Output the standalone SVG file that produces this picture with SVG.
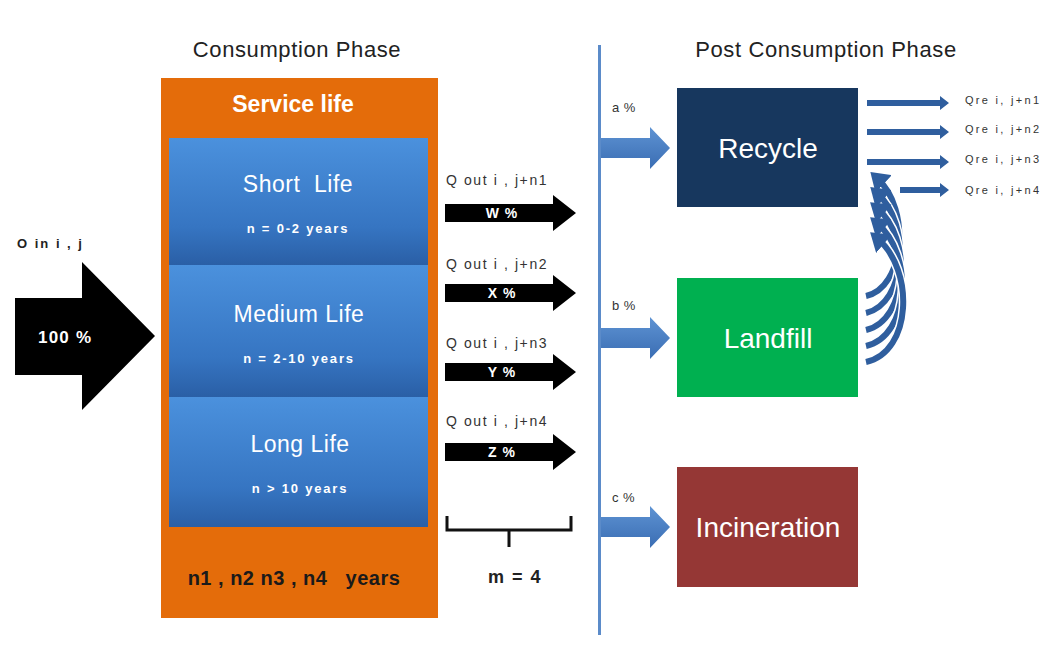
<svg xmlns="http://www.w3.org/2000/svg" width="1050" height="650" viewBox="0 0 1050 650">
  <defs>
    <style>
      .title { font-family: "Liberation Sans", Arial, sans-serif; font-size: 22px; letter-spacing: 0.6px; fill: #222; }
      .lbl { font-family: "Liberation Sans", Arial, sans-serif; font-size: 14px; letter-spacing: 1.6px; fill: #333; }
      .pct { font-family: "Liberation Sans", Arial, sans-serif; font-size: 13px; letter-spacing: 0.5px; fill: #333; }
      .small { font-family: "Liberation Sans", Arial, sans-serif; font-size: 11px; fill: #333; letter-spacing: 2.3px; }
      .life { font-family: "Liberation Sans", Arial, sans-serif; font-size: 23px; letter-spacing: 0.5px; fill: #fff; text-anchor: middle; }
      .yrs { font-family: "Liberation Sans", Arial, sans-serif; font-size: 13px; letter-spacing: 1.8px; font-weight: bold; fill: #fff; text-anchor: middle; }
      .box { font-family: "Liberation Sans", Arial, sans-serif; font-size: 28px; fill: #fff; text-anchor: middle; }
      .inarrow { font-family: "Liberation Sans", Arial, sans-serif; font-size: 14px; letter-spacing: 1px; font-weight: bold; fill: #fff; text-anchor: middle; }
      .blk { fill: #000; }
      .curve { fill: none; stroke: #2F5E9E; stroke-width: 6; }
      .curvebg { fill: none; stroke: #fff; stroke-width: 9; }
    </style>
    <linearGradient id="blueG" x1="0" y1="0" x2="0" y2="1">
      <stop offset="0" stop-color="#4B91DD"/>
      <stop offset="0.7" stop-color="#3675C2"/>
      <stop offset="1" stop-color="#2A5FA6"/>
    </linearGradient>
    <linearGradient id="arrG" x1="0" y1="0" x2="0" y2="1">
      <stop offset="0" stop-color="#5E93D3"/>
      <stop offset="1" stop-color="#3A6DB3"/>
    </linearGradient>
    <marker id="curveHead" markerWidth="4" markerHeight="4" refX="1.5" refY="2" orient="auto" markerUnits="strokeWidth">
      <path d="M0,0 L3,2 L0,4 Z" fill="#2F5E9E"/>
    </marker>
  </defs>

  <rect width="1050" height="650" fill="#fff"/>

  <!-- Titles -->
  <text class="title" x="297" y="57" text-anchor="middle">Consumption Phase</text>
  <text class="title" x="826" y="57" text-anchor="middle">Post Consumption Phase</text>

  <!-- Input arrow -->
  <g id="input">
    <text x="17" y="248" style="font-family:'Liberation Sans',Arial,sans-serif;font-size:13px;letter-spacing:2px;font-weight:bold;fill:#222">O in i , j</text>
    <polygon class="blk" points="15,298 82,298 82,262 155,336 82,410 82,375 15,375"/>
    <text x="38" y="343" style="font-family:'Liberation Sans',Arial,sans-serif;font-size:17px;letter-spacing:1.2px;font-weight:bold;fill:#fff">100 %</text>
  </g>

  <!-- Service life box -->
  <g id="service-life">
    <rect x="161" y="78" width="277" height="540" fill="#E46C0A"/>
    <text x="293" y="112" text-anchor="middle" style="font-family:'Liberation Sans',Arial,sans-serif;font-size:23px;font-weight:bold;fill:#fff">Service life</text>
    <text x="294" y="585" text-anchor="middle" style="font-family:'Liberation Sans',Arial,sans-serif;font-size:20px;letter-spacing:0.5px;font-weight:bold;fill:#1a1a1a" xml:space="preserve">n1 , n2 n3 , n4   years</text>
  </g>
  <g id="short-life">
    <rect x="169" y="138" width="259" height="127" fill="url(#blueG)"/>
    <text class="life" x="298" y="192" xml:space="preserve">Short  Life</text>
    <text class="yrs" x="298" y="233">n = 0-2 years</text>
  </g>
  <g id="medium-life">
    <rect x="169" y="265" width="259" height="132" fill="url(#blueG)"/>
    <text class="life" x="299" y="322">Medium Life</text>
    <text class="yrs" x="299" y="363">n = 2-10 years</text>
  </g>
  <g id="long-life">
    <rect x="169" y="397" width="259" height="130" fill="url(#blueG)"/>
    <text class="life" x="300" y="452">Long Life</text>
    <text class="yrs" x="300" y="493">n &gt; 10 years</text>
  </g>

  <!-- Output arrows -->
  <g id="outputs">
    <text class="lbl" x="446" y="185">Q out i , j+n1</text>
    <polygon class="blk" points="445,204 553,204 553,195 576,213 553,231 553,222 445,222"/>
    <text class="inarrow" x="502" y="218">W %</text>

    <text class="lbl" x="446" y="269">Q out i , j+n2</text>
    <polygon class="blk" points="445,284 553,284 553,275 576,293 553,311 553,302 445,302"/>
    <text class="inarrow" x="502" y="298">X %</text>

    <text class="lbl" x="446" y="348">Q out i , j+n3</text>
    <polygon class="blk" points="445,363 553,363 553,354 576,372 553,390 553,381 445,381"/>
    <text class="inarrow" x="502" y="377">Y %</text>

    <text class="lbl" x="446" y="426">Q out i , j+n4</text>
    <polygon class="blk" points="445,443 553,443 553,434 576,452 553,470 553,461 445,461"/>
    <text class="inarrow" x="502" y="457">Z %</text>

    <path d="M447,516 V530 H571 V516 M509,530 V547" fill="none" stroke="#111" stroke-width="3"/>
    <text x="515" y="583" text-anchor="middle" style="font-family:'Liberation Sans',Arial,sans-serif;font-size:18px;letter-spacing:1.5px;font-weight:bold;fill:#222">m = 4</text>
  </g>

  <!-- Divider and distribution arrows -->
  <g id="connectors">
    <line x1="599.5" y1="45" x2="599.5" y2="635" stroke="#5B8BC9" stroke-width="3"/>

    <text class="pct" x="612" y="112">a %</text>
    <polygon fill="url(#arrG)" points="601,138 650,138 650,127 670,148 650,169 650,158 601,158"/>
    <text class="pct" x="612" y="310">b %</text>
    <polygon fill="url(#arrG)" points="601,328 650,328 650,317 670,338 650,359 650,348 601,348"/>
    <text class="pct" x="612" y="502">c %</text>
    <polygon fill="url(#arrG)" points="601,517 650,517 650,506 670,527 650,548 650,537 601,537"/>

    <!-- Recycle outputs -->
    <g fill="#2F5E9E">
      <polygon points="867,100 940,100 940,96 949,103 940,110 940,106 867,106"/>
      <polygon points="867,129 940,129 940,125 949,132 940,139 940,135 867,135"/>
      <polygon points="867,159 940,159 940,155 949,162 940,169 940,165 867,165"/>
      <polygon points="900,187 940,187 940,183 949,190 940,197 940,193 900,193"/>
    </g>

    <!-- Landfill to recycle curves -->
    <g>
      <path class="curvebg" d="M866,296 C904,288 912,210 877,178"/>
      <path class="curve" d="M866,296 C904,288 912,210 877,178" marker-end="url(#curveHead)"/>
      <path class="curvebg" d="M866,313 C906,304 912,224 877,193"/>
      <path class="curve" d="M866,313 C906,304 912,224 877,193" marker-end="url(#curveHead)"/>
      <path class="curvebg" d="M866,330 C908,320 913,238 877,208"/>
      <path class="curve" d="M866,330 C908,320 913,238 877,208" marker-end="url(#curveHead)"/>
      <path class="curvebg" d="M866,346 C910,336 914,254 877,223"/>
      <path class="curve" d="M866,346 C910,336 914,254 877,223" marker-end="url(#curveHead)"/>
      <path class="curvebg" d="M866,362 C912,352 915,270 877,238"/>
      <path class="curve" d="M866,362 C912,352 915,270 877,238" marker-end="url(#curveHead)"/>
    </g>

    <g>
      <text class="small" x="965" y="104">Qre i, j+n1</text>
      <text class="small" x="965" y="133">Qre i, j+n2</text>
      <text class="small" x="965" y="163">Qre i, j+n3</text>
      <text class="small" x="965" y="194">Qre i, j+n4</text>
    </g>
  </g>

  <!-- Destination boxes -->
  <g id="recycle">
    <rect x="677" y="88" width="181" height="119" fill="#17375E"/>
    <text class="box" x="768" y="158">Recycle</text>
  </g>
  <g id="landfill">
    <rect x="677" y="278" width="181" height="119" fill="#00B050"/>
    <text class="box" x="768" y="348">Landfill</text>
  </g>
  <g id="incineration">
    <rect x="677" y="467" width="181" height="120" fill="#953735"/>
    <text class="box" x="768" y="537">Incineration</text>
  </g>
</svg>
